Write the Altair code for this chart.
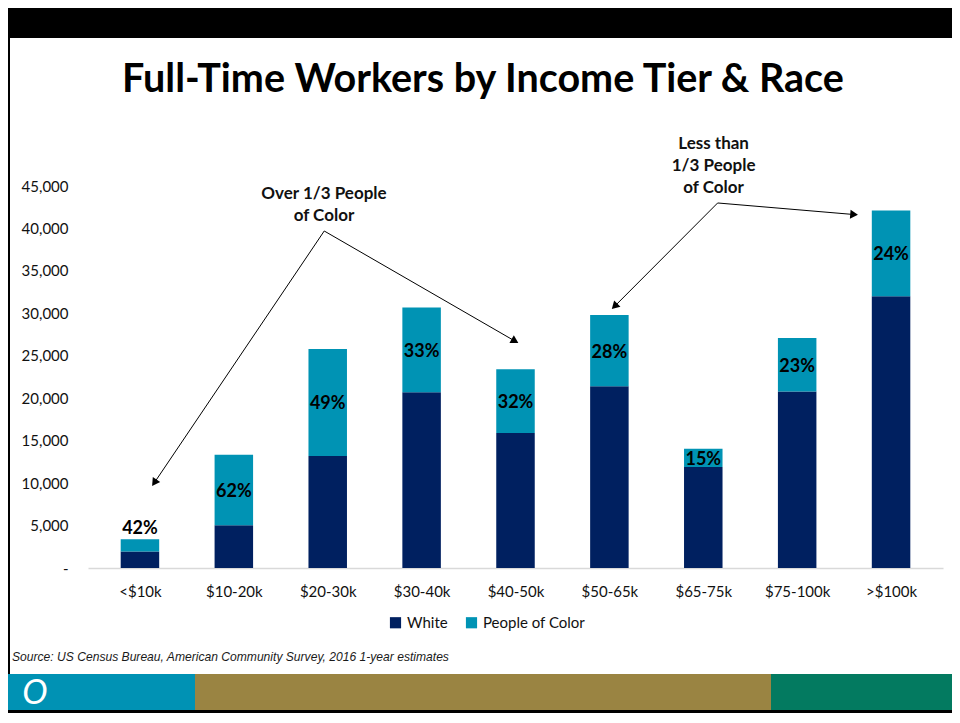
import math
import altair as alt
import pandas as pd

# ---------------- data ----------------
categories = ["<$10k", "$10-20k", "$20-30k", "$30-40k", "$40-50k",
              "$50-65k", "$65-75k", "$75-100k", ">$100k"]
white = [1950, 5050, 13200, 20700, 15900, 21400, 11900, 20800, 32000]
people_of_color = [1450, 8300, 12600, 10000, 7500, 8400, 2150, 6300, 10100]
poc_share_labels = ["42%", "62%", "49%", "33%", "32%", "28%", "15%", "23%", "24%"]
series = ["White", "People of Color"]
series_colors = ["#002060", "#0093B4"]
y_ticks = [0, 5000, 10000, 15000, 20000, 25000, 30000, 35000, 40000, 45000]

title_text = "Full-Time Workers by Income Tier & Race"
source_text = "Source: US Census Bureau, American Community Survey, 2016 1-year estimates"

# annotations (in data coordinates: category index, workers)
ann_lines = [["Over 1/3 People", "of Color"], ["Less than", "1/3 People", "of Color"]]
ann_x = [1.96, 6.11]
ann_y = [45000, 50900]
arrow_from_x = [1.963, 1.963, 6.153, 6.153]
arrow_from_y = [39700, 39700, 43000, 43000]
arrow_to_x = [0.13, 4.03, 5.026, 7.647]
arrow_to_y = [9660, 26500, 30500, 41600]

# ---------------- layout ----------------
W, H = 855, 382
Y_MAX = 45000
X_DOM = [-0.5, len(categories) - 0.5]
PX_X = W / (X_DOM[1] - X_DOM[0])
PX_Y = H / Y_MAX
FONT = "Lato"

xscale = alt.Scale(domain=X_DOM, nice=False, zero=False)
yscale = alt.Scale(domain=[0, Y_MAX], nice=False, zero=True)

# ---------------- tables ----------------
rows = []
for i, c in enumerate(categories):
    rows.append({"idx": i, "cat": c, "series": series[0], "order": 0, "value": white[i]})
    rows.append({"idx": i, "cat": c, "series": series[1], "order": 1, "value": people_of_color[i]})
bars_df = pd.DataFrame(rows)

lab_df = pd.DataFrame({
    "idx": list(range(len(categories))),
    "label": poc_share_labels,
    "white": white,
    "poc": people_of_color,
})
lab_df["total"] = lab_df["white"] + lab_df["poc"]
lab_df["mid"] = lab_df["white"] + lab_df["poc"] / 2

ann_df = pd.DataFrame({"ax": ann_x, "ay": ann_y, "text": ann_lines})

arr_rows = []
for fx, fy, tx, ty in zip(arrow_from_x, arrow_from_y, arrow_to_x, arrow_to_y):
    dxp = (tx - fx) * PX_X
    dyp = -(ty - fy) * PX_Y
    L = math.hypot(dxp, dyp)
    ux, uy = dxp / L, dyp / L
    ang = math.degrees(math.atan2(dxp, -dyp)) % 360
    back = 0.433 * math.sqrt(80)
    hx = tx - back * ux / PX_X
    hy = ty + back * uy / PX_Y
    arr_rows.append({"fx": fx, "fy": fy, "hx": hx, "hy": hy, "angle": ang})
arr_df = pd.DataFrame(arr_rows)

label_expr = "[" + ",".join("'" + c + "'" for c in categories) + "][datum.value]"

# ---------------- decorations ----------------
one = alt.Data(values=[{"k": 1}])


def deco_rect(x1, x2, y1, y2, color):
    return alt.Chart(one).mark_rect(color=color).encode(
        x=alt.value(x1), x2=alt.value(x2), y=alt.value(y1), y2=alt.value(y2))


top_bar = deco_rect(-80, 864, -178, -148, "#000000")
left_border = deco_rect(-80, -78, -178, 527, "#000000")
foot_teal = deco_rect(-80, 107, 488, 524, "#0092B4")
foot_olive = deco_rect(107, 683, 488, 524, "#9A8442")
foot_green = deco_rect(683, 864, 488, 524, "#037A60")
foot_line = deco_rect(-80, 864, 524, 527, "#000000")

logo = alt.Chart(one).mark_text(
    text="O", font=FONT, fontSize=34, fontStyle="italic", color="white",
    align="center", baseline="middle"
).encode(x=alt.value(-53), y=alt.value(508))

title = alt.Chart(one).mark_text(
    text=title_text, font=FONT, fontSize=39.5, fontWeight="bold", color="#000000",
    align="center", baseline="alphabetic"
).encode(x=alt.value(395), y=alt.value(-94))

source = alt.Chart(one).mark_text(
    text=source_text, font="Liberation Sans", fontSize=12.1, fontStyle="italic",
    color="#1a1a1a", align="left", baseline="alphabetic"
).encode(x=alt.value(-76), y=alt.value(475))

# ---------------- data marks ----------------
bars = alt.Chart(bars_df).mark_bar(size=38.5).encode(
    x=alt.X("idx:Q", scale=xscale, title=None,
            axis=alt.Axis(values=list(range(len(categories))), labelExpr=label_expr,
                          domain=True, domainColor="#D9D9D9", domainWidth=1.5,
                          ticks=False, grid=False, labelPadding=16,
                          labelFontSize=15, labelFont=FONT, labelColor="#111111")),
    y=alt.Y("value:Q", scale=yscale, stack="zero", title=None,
            axis=alt.Axis(values=y_ticks,
                          labelExpr="datum.value == 0 ? '-' : format(datum.value, ',')",
                          domain=False, ticks=False, grid=False, labelPadding=20,
                          labelFontSize=15, labelFont=FONT, labelColor="#111111")),
    color=alt.Color("series:N", scale=alt.Scale(domain=series, range=series_colors),
                    sort=series,
                    legend=alt.Legend(orient="none", legendX=300, legendY=429,
                                      direction="horizontal", title=None,
                                      symbolType="square", symbolSize=125,
                                      symbolStrokeWidth=0, labelFontSize=15,
                                      labelFont=FONT, labelColor="#111111",
                                      columnPadding=16, labelOffset=4)),
    order=alt.Order("order:Q", sort="ascending"),
)

labels_inside = alt.Chart(lab_df).transform_filter("datum.poc >= 1800").mark_text(
    font=FONT, fontSize=18, fontWeight="bold", color="#000000",
    align="center", baseline="middle", dy=2
).encode(
    x=alt.X("idx:Q", scale=xscale, title=None),
    y=alt.Y("mid:Q", scale=yscale, title=None),
    text="label:N",
)

labels_above = alt.Chart(lab_df).transform_filter("datum.poc < 1800").mark_text(
    font=FONT, fontSize=18, fontWeight="bold", color="#000000",
    align="center", baseline="bottom", dy=-1
).encode(
    x=alt.X("idx:Q", scale=xscale, title=None),
    y=alt.Y("total:Q", scale=yscale, title=None),
    text="label:N",
)

ann_text = alt.Chart(ann_df).mark_text(
    font=FONT, fontSize=17, fontWeight="bold", color="#111111",
    align="center", baseline="top", lineHeight=22
).encode(
    x=alt.X("ax:Q", scale=xscale, title=None),
    y=alt.Y("ay:Q", scale=yscale, title=None),
    text="text",
)

arrow_lines = alt.Chart(arr_df).mark_rule(color="#000000", strokeWidth=1).encode(
    x=alt.X("fx:Q", scale=xscale, title=None),
    y=alt.Y("fy:Q", scale=yscale, title=None),
    x2="hx:Q",
    y2="hy:Q",
)

arrow_heads = alt.Chart(arr_df).mark_point(
    shape="triangle-up", filled=True, color="#000000", size=80, opacity=1
).encode(
    x=alt.X("hx:Q", scale=xscale, title=None),
    y=alt.Y("hy:Q", scale=yscale, title=None),
    angle=alt.Angle("angle:Q", scale=None),
)

chart = alt.layer(
    top_bar, left_border, foot_teal, foot_olive, foot_green, foot_line, logo,
    title, source,
    bars, labels_inside, labels_above, arrow_lines, arrow_heads, ann_text,
).properties(
    width=W, height=H,
    autosize=alt.AutoSizeParams(type="none"),
    padding={"left": 80, "top": 178, "right": 9, "bottom": 145},
    background="white",
).configure_view(stroke=None)

chart.save("out.html", embed_options={"renderer": "svg", "actions": False})
